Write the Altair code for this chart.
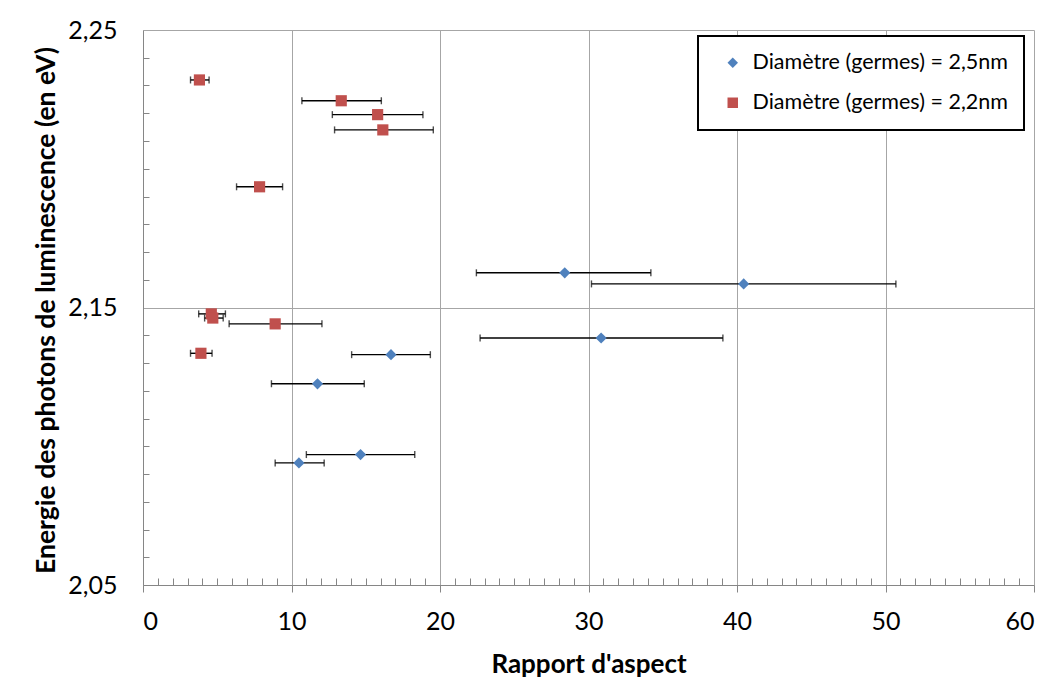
import altair as alt
import pandas as pd

# Série 1 : Diamètre (germes) = 2,5nm
s1_label = "Diamètre (germes) = 2,5nm"
s1_x = [28.4, 40.45, 30.85, 16.7, 11.75, 14.65, 10.5]
s1_y = [2.1625, 2.1585, 2.139, 2.133, 2.1225, 2.097, 2.094]
s1_xmin = [22.45, 30.2, 22.7, 14.05, 8.65, 11.0, 8.9]
s1_xmax = [34.2, 50.7, 39.05, 19.35, 14.9, 18.3, 12.2]

# Série 2 : Diamètre (germes) = 2,2nm
s2_label = "Diamètre (germes) = 2,2nm"
s2_x = [3.8, 13.35, 15.8, 16.15, 7.85, 4.6, 4.7, 8.9, 3.9]
s2_y = [2.232, 2.2245, 2.2195, 2.214, 2.1935, 2.1477, 2.1462, 2.1441, 2.1335]
s2_xmin = [3.2, 10.7, 12.75, 12.9, 6.3, 3.75, 4.15, 5.8, 3.2]
s2_xmax = [4.45, 16.05, 18.85, 19.55, 9.4, 5.55, 5.4, 12.05, 4.65]

x_major = [0, 10, 20, 30, 40, 50, 60]
x_minor = [i for i in range(1, 60) if i % 10 != 0]
y_major = [2.05, 2.15, 2.25]
y_minor = [round(2.05 + 0.01 * i, 2) for i in range(1, 20) if i != 10]

rows = []
for lab, xs, ys, lo, hi in [(s2_label, s2_x, s2_y, s2_xmin, s2_xmax),
                            (s1_label, s1_x, s1_y, s1_xmin, s1_xmax)]:
    for a, b, c, d in zip(xs, ys, lo, hi):
        rows.append({"serie": lab, "x": a, "y": b, "xmin": c, "xmax": d})
df = pd.DataFrame(rows)

FONT = "Lato"
xs = alt.Scale(domain=[0, 60], nice=False, zero=False)
ys = alt.Scale(domain=[2.05, 2.25], nice=False, zero=False)

x_axis = alt.Axis(values=x_major, grid=True, gridColor="#a6a6a6", gridWidth=1,
                  domainColor="#868686", tickColor="#868686", tickSize=7,
                  labelFont=FONT, labelFontSize=25, labelColor="black", labelPadding=17,
                  title="Rapport d'aspect", titleFont=FONT, titleFontSize=26,
                  titleFontWeight="bold", titleColor="black", titleY=87,
                  titleBaseline="alphabetic", orient="bottom")
y_axis = alt.Axis(values=y_major, grid=True, gridColor="#a6a6a6", gridWidth=1,
                  domainColor="#868686", tickSize=0, tickColor="#868686",
                  labelFont=FONT, labelFontSize=25, labelColor="black", labelPadding=26,
                  labelExpr="replace(format(datum.value, '.2f'), '.', ',')",
                  title="Energie des photons de luminescence (en eV)", titleFont=FONT,
                  titleFontSize=26.5, titleFontWeight="bold", titleColor="black",
                  titleX=-89, titleY=280, titleBaseline="alphabetic", titleAngle=270,
                  orient="left")
x_minor_axis = alt.Axis(values=x_minor, grid=False, domain=False, labels=False,
                        tickSize=7, tickColor="#868686", offset=-7, title=None,
                        orient="bottom")
y_minor_axis = alt.Axis(values=y_minor, grid=False, domain=False, labels=False,
                        tickSize=6, tickColor="#868686", offset=-6, title=None,
                        orient="left")

base = alt.Chart(df)

border = alt.Chart(alt.Data(values=[{"a": 1}])).mark_rect(
    fillOpacity=0, stroke="#c8c8c8", strokeWidth=1).encode(
    x=alt.value(-136), x2=alt.value(906), y=alt.value(-23), y2=alt.value(654))

BAR = "#000000"
rules = base.mark_rule(color=BAR, strokeWidth=1.4).encode(
    x=alt.X("xmin:Q", scale=xs, axis=x_axis),
    x2="xmax:Q",
    y=alt.Y("y:Q", scale=ys, axis=y_axis),
)
caps_lo = base.mark_tick(color=BAR, orient="vertical", size=7, thickness=1.4).encode(
    x=alt.X("xmin:Q", scale=xs, axis=x_minor_axis),
    y=alt.Y("y:Q", scale=ys, axis=y_minor_axis),
)
caps_hi = base.mark_tick(color=BAR, orient="vertical", size=7, thickness=1.4).encode(
    x=alt.X("xmax:Q", scale=xs, axis=None),
    y=alt.Y("y:Q", scale=ys, axis=None),
)
points = base.mark_point(filled=True, opacity=1, size=125).encode(
    x=alt.X("x:Q", scale=xs, axis=None),
    y=alt.Y("y:Q", scale=ys, axis=None),
    color=alt.Color("serie:N",
                    scale=alt.Scale(domain=[s1_label, s2_label], range=["#4F81BD", "#C0504D"]),
                    legend=alt.Legend(title=None, orient="none", legendX=555, legendY=6,
                                      strokeColor="black", fillColor="white", padding=16,
                                      rowPadding=17, labelFont=FONT, labelFontSize=21.5,
                                      labelColor="black", symbolOffset=8, labelOffset=9,
                                      labelLimit=500, symbolSize=110)),
    shape=alt.Shape("serie:N",
                    scale=alt.Scale(domain=[s1_label, s2_label], range=["diamond", "square"]),
                    legend=alt.Legend(title=None, orient="none", legendX=555, legendY=6,
                                      labelLimit=500)),
)

chart = alt.layer(border, rules, caps_lo, caps_hi, points).resolve_axis(
    x="independent", y="independent"
).properties(
    width=891, height=555,
    autosize=alt.AutoSizeParams(type="none"),
    padding={"left": 135, "top": 22, "right": 14, "bottom": 98},
).configure_view(stroke=None).configure_legend(strokeWidth=2)

chart.save("out.html", embed_options={"renderer": "svg", "actions": False})
